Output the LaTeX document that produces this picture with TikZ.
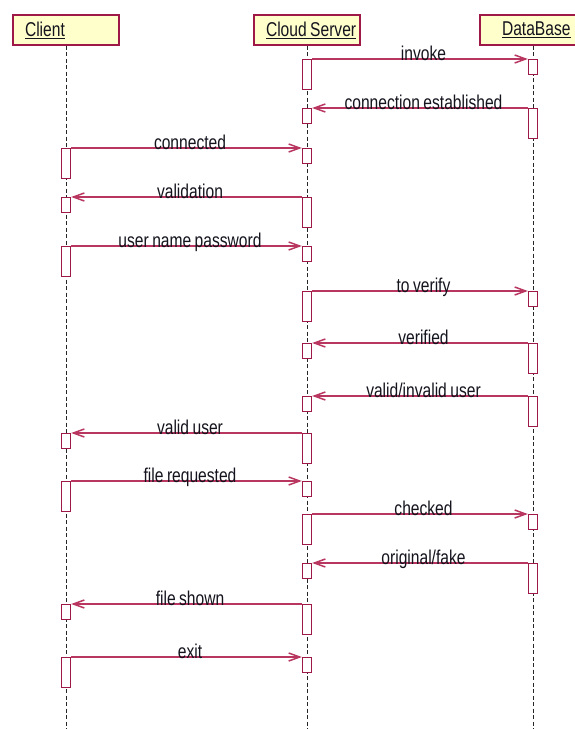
\documentclass[tikz,border=0pt]{standalone}
\usepackage{fontspec}
\setmainfont[FakeStretch=0.78, WordSpace=0.8]{Liberation Sans}
\usepackage{xcolor}
\usepackage{tikz}
\usetikzlibrary{arrows.meta, positioning}
\definecolor{boxred}{RGB}{158,24,72}
\definecolor{msgred}{RGB}{184,54,96}
\definecolor{headfill}{RGB}{255,255,204}
\definecolor{inkgray}{RGB}{20,20,30}
\newcommand{\headtext}[2]{\makebox[#1][l]{\underline{#2}}}

\begin{document}
\begin{tikzpicture}[
    x=1pt, y=-1pt,
    head/.style={draw=boxred, line width=1.3pt, fill=headfill, minimum height=30pt, inner xsep=12pt, font=\fontsize{20}{22}\selectfont, text=inkgray},
    life/.style={dash pattern=on 4pt off 2.5pt, line width=1pt, black!85},
    act/.style={draw=boxred, line width=1.3pt, fill=white, minimum width=9pt, minimum height=15pt, inner sep=0pt, anchor=north},
    actlong/.style={act, minimum height=30pt},
    msg/.style={-{Straight Barb[length=11pt, width=8pt]}, line width=1.5pt, msgred},
    msglabel/.style={midway, anchor=base, xshift=3.5pt, yshift=-1pt, inner sep=0pt, font=\fontsize{20}{22}\selectfont, text=inkgray}
]
    \useasboundingbox (0,0) rectangle (574,729);

    % === Lifelines ===
    \node[head] (client) at (66,30) {\headtext{82pt}{Client}};
    \node[head] (server) at (307,30) {\headtext{82pt}{Cloud Server}};
    \node[head, inner xsep=22pt] (db) at (533,30) {\headtext{62pt}{DataBase}};

    \coordinate (clientEnd) at (66,729);
    \coordinate (serverEnd) at (307,729);
    \coordinate (dbEnd) at (533,729);
    \draw[life] (client.south) -- (clientEnd);
    \draw[life] (server.south) -- (serverEnd);
    \draw[life] (db.south) -- (dbEnd);

    % === Connection ===
    \node[actlong] (srv1) at (307,59) {};
    \node[act] (db1) at (533,59) {};
    \draw[msg] (srv1.north east) -- node[msglabel] {invoke} (db1.north west);

    \node[actlong] (db2) at (533,108) {};
    \node[act] (srv2) at (307,108) {};
    \draw[msg] (db2.north west) -- node[msglabel] {connection established} (srv2.north east);

    \node[actlong] (cli3) at (66,148) {};
    \node[act] (srv3) at (307,148) {};
    \draw[msg] (cli3.north east) -- node[msglabel] {connected} (srv3.north west);

    \node[actlong] (srv4) at (307,197) {};
    \node[act] (cli4) at (66,197) {};
    \draw[msg] (srv4.north west) -- node[msglabel] {validation} (cli4.north east);

    % === Login ===
    \node[actlong] (cli5) at (66,246) {};
    \node[act] (srv5) at (307,246) {};
    \draw[msg] (cli5.north east) -- node[msglabel] {user name password} (srv5.north west);

    \node[actlong] (srv6) at (307,291) {};
    \node[act] (db6) at (533,291) {};
    \draw[msg] (srv6.north east) -- node[msglabel] {to verify} (db6.north west);

    \node[actlong] (db7) at (533,343) {};
    \node[act] (srv7) at (307,343) {};
    \draw[msg] (db7.north west) -- node[msglabel] {verified} (srv7.north east);

    \node[actlong] (db8) at (533,396) {};
    \node[act] (srv8) at (307,396) {};
    \draw[msg] (db8.north west) -- node[msglabel] {valid/invalid user} (srv8.north east);

    \node[actlong] (srv9) at (307,433) {};
    \node[act] (cli9) at (66,433) {};
    \draw[msg] (srv9.north west) -- node[msglabel] {valid user} (cli9.north east);

    % === File request ===
    \node[actlong] (cli10) at (66,481) {};
    \node[act] (srv10) at (307,481) {};
    \draw[msg] (cli10.north east) -- node[msglabel] {file requested} (srv10.north west);

    \node[actlong] (srv11) at (307,514) {};
    \node[act] (db11) at (533,514) {};
    \draw[msg] (srv11.north east) -- node[msglabel] {checked} (db11.north west);

    \node[actlong] (db12) at (533,563) {};
    \node[act] (srv12) at (307,563) {};
    \draw[msg] (db12.north west) -- node[msglabel] {original/fake} (srv12.north east);

    \node[actlong] (srv13) at (307,604) {};
    \node[act] (cli13) at (66,604) {};
    \draw[msg] (srv13.north west) -- node[msglabel] {file shown} (cli13.north east);

    \node[actlong] (cli14) at (66,657) {};
    \node[act] (srv14) at (307,657) {};
    \draw[msg] (cli14.north east) -- node[msglabel] {exit} (srv14.north west);
\end{tikzpicture}
\end{document}
